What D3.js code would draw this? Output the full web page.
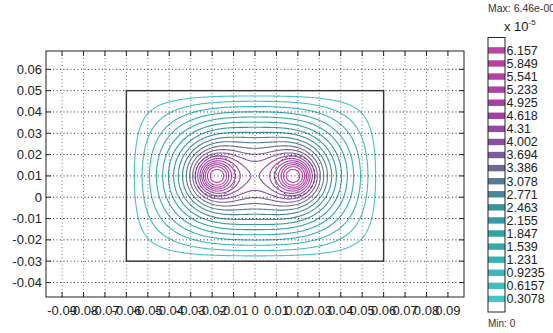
<!DOCTYPE html>
<html>
<head>
<meta charset="utf-8">
<script src="https://cdn.jsdelivr.net/npm/d3@7"></script>
<style>
  html, body { margin: 0; padding: 0; background: #fff; overflow: hidden; }
  svg { display: block; font-family: "Liberation Sans Narrow", "Liberation Sans", Arial, sans-serif; }
</style>
</head>
<body>
<svg id="chart" width="553" height="333"></svg>
<script>
// axis ticks and labels
const xTicks = [-0.09, -0.08, -0.07, -0.06, -0.05, -0.04, -0.03, -0.02, -0.01, 0, 0.01, 0.02, 0.03, 0.04, 0.05, 0.06, 0.07, 0.08, 0.09];
const xTickLabels = ["-0.09", "-0.08", "-0.07", "-0.06", "-0.05", "-0.04", "-0.03", "-0.02", "-0.01", "0", "0.01", "0.02", "0.03", "0.04", "0.05", "0.06", "0.07", "0.08", "0.09"];
const yTicks = [-0.04, -0.03, -0.02, -0.01, 0, 0.01, 0.02, 0.03, 0.04, 0.05, 0.06];
const yTickLabels = ["-0.04", "-0.03", "-0.02", "-0.01", "0", "0.01", "0.02", "0.03", "0.04", "0.05", "0.06"];

// outer boundary of the model (potential is zero on it)
const boundaryX = [-0.06, 0.06];
const boundaryY = [-0.03, 0.05];

// the two conductors (current radius) and their drawn outline
const conductorX = [-0.0185, 0.0185];
const conductorY = [0.01, 0.01];
const conductorR = [0.0058, 0.0058];
const outlineR = [0.0095, 0.0095];

// field range, x 1e-5
const fieldMax = 6.46;
const fieldMin = 0;
const levels = [0.3078, 0.6157, 0.9235, 1.231, 1.539, 1.847, 2.155, 2.463, 2.771, 3.078, 3.386, 3.694, 4.002, 4.31, 4.618, 4.925, 5.233, 5.541, 5.849, 6.157];
const levelLabels = ["0.3078", "0.6157", "0.9235", "1.231", "1.539", "1.847", "2.155", "2.463", "2.771", "3.078", "3.386", "3.694", "4.002", "4.31", "4.618", "4.925", "5.233", "5.541", "5.849", "6.157"];

const svg = d3.select("#chart");
const plot = { left: 46, right: 464, top: 51, bottom: 297 };

const x = d3.scaleLinear().domain([-0.0975, 0.0975]).range([plot.left, plot.right]);
const y = d3.scaleLinear().domain([-0.0468, 0.0686]).range([plot.bottom, plot.top]);

const color = d3.scaleLinear()
  .domain([0, 1.8, 3.0, 3.4, 4.0, 4.6, 6.2])
  .range(["#4ccad3", "#2ba7a6", "#4f8096", "#6c6a92", "#8a4ea9", "#a23fa6", "#bd43a0"]);

// solve the potential on a grid: Poisson with current in the conductors, zero on the boundary
const h = 0.0005;
const nx = Math.round((boundaryX[1] - boundaryX[0]) / h) + 1;
const ny = Math.round((boundaryY[1] - boundaryY[0]) / h) + 1;
const A = new Float64Array(nx * ny);
const J = new Float64Array(nx * ny);
for (let j = 0; j < ny; j++) {
  for (let i = 0; i < nx; i++) {
    const px = boundaryX[0] + i * h, py = boundaryY[1] - j * h;
    for (let c = 0; c < conductorX.length; c++) {
      const dx = px - conductorX[c], dy = py - conductorY[c];
      if (dx * dx + dy * dy <= conductorR[c] * conductorR[c]) J[j * nx + i] = 1;
    }
  }
}
const w = 1.965;
for (let it = 0; it < 1300; it++) {
  for (let j = 1; j < ny - 1; j++) {
    for (let i = 1; i < nx - 1; i++) {
      const k = j * nx + i;
      const g = (A[k - 1] + A[k + 1] + A[k - nx] + A[k + nx] + J[k]) * 0.25;
      A[k] += w * (g - A[k]);
    }
  }
}
const aMax = d3.max(A);
const values = Array.from(A, v => v / aMax * fieldMax);

// contours
const contours = d3.contours().size([nx, ny]).thresholds(levels)(values);
const toScreen = d3.geoTransform({
  point(px, py) {
    this.stream.point(x(boundaryX[0] + (px - 0.5) * h), y(boundaryY[1] - (py - 0.5) * h));
  }
});
const path = d3.geoPath(toScreen);

svg.append("g")
  .selectAll("path")
  .data(contours)
  .join("path")
  .attr("d", path)
  .attr("fill", "none")
  .attr("stroke", d => color(d.value))
  .attr("stroke-width", 1.1);

// conductor outlines
svg.append("g")
  .selectAll("circle")
  .data(conductorX)
  .join("circle")
  .attr("cx", d => x(d))
  .attr("cy", (d, i) => y(conductorY[i]))
  .attr("r", (d, i) => x(outlineR[i]) - x(0))
  .attr("fill", "none")
  .attr("stroke", "#4a1f4c")
  .attr("stroke-opacity", 0.75)
  .attr("stroke-dasharray", "3,2");

// dotted grid
svg.append("g")
  .selectAll("line")
  .data(xTicks)
  .join("line")
  .attr("x1", d => x(d)).attr("x2", d => x(d))
  .attr("y1", plot.top).attr("y2", plot.bottom)
  .attr("stroke", "#777").attr("stroke-dasharray", "1,2.5");
svg.append("g")
  .selectAll("line")
  .data(yTicks)
  .join("line")
  .attr("x1", plot.left).attr("x2", plot.right)
  .attr("y1", d => y(d)).attr("y2", d => y(d))
  .attr("stroke", "#333").attr("stroke-dasharray", "1,2.5");

// model boundary
svg.append("rect")
  .attr("x", x(boundaryX[0])).attr("y", y(boundaryY[1]))
  .attr("width", x(boundaryX[1]) - x(boundaryX[0]))
  .attr("height", y(boundaryY[0]) - y(boundaryY[1]))
  .attr("fill", "none").attr("stroke", "#333").attr("stroke-width", 1.4);

// axes box and inward ticks on all sides
const tickLen = 5;
const ticks = svg.append("g").attr("stroke", "#222");
xTicks.forEach(v => {
  ticks.append("line").attr("x1", x(v)).attr("x2", x(v)).attr("y1", plot.bottom).attr("y2", plot.bottom - tickLen);
  ticks.append("line").attr("x1", x(v)).attr("x2", x(v)).attr("y1", plot.top).attr("y2", plot.top + tickLen);
});
yTicks.forEach(v => {
  ticks.append("line").attr("x1", plot.left).attr("x2", plot.left + tickLen).attr("y1", y(v)).attr("y2", y(v));
  ticks.append("line").attr("x1", plot.right).attr("x2", plot.right - tickLen).attr("y1", y(v)).attr("y2", y(v));
});
svg.append("rect")
  .attr("x", plot.left).attr("y", plot.top)
  .attr("width", plot.right - plot.left).attr("height", plot.bottom - plot.top)
  .attr("fill", "none").attr("stroke", "#222");

svg.append("g")
  .selectAll("text")
  .data(xTicks)
  .join("text")
  .attr("x", d => x(d)).attr("y", 315)
  .attr("text-anchor", "middle")
  .attr("font-size", 13).attr("fill", "#222")
  .text((d, i) => xTickLabels[i]);
svg.append("g")
  .selectAll("text")
  .data(yTicks)
  .join("text")
  .attr("x", 42).attr("y", d => y(d) + 4.5)
  .attr("text-anchor", "end")
  .attr("font-size", 13).attr("fill", "#222")
  .text((d, i) => yTickLabels[i]);

// colour bar
const bar = { left: 488, right: 505 };
const cb = d3.scaleLinear().domain([fieldMin, fieldMax]).range([312, 37.5]);
svg.append("g")
  .selectAll("rect")
  .data(levels)
  .join("rect")
  .attr("x", bar.left).attr("width", bar.right - bar.left)
  .attr("y", d => cb(d) - 3.2).attr("height", 6.4)
  .attr("fill", d => color(d));
svg.append("rect")
  .attr("x", bar.left).attr("y", cb(fieldMax))
  .attr("width", bar.right - bar.left).attr("height", cb(fieldMin) - cb(fieldMax))
  .attr("fill", "none").attr("stroke", "#222");
svg.append("g")
  .selectAll("text")
  .data(levels)
  .join("text")
  .attr("x", bar.right + 1.5).attr("y", d => cb(d) + 4.3)
  .attr("font-size", 12.5).attr("fill", "#222")
  .text((d, i) => levelLabels[i]);

svg.append("text").attr("x", 488).attr("y", 12).attr("font-family", "Liberation Sans, Arial, sans-serif")
  .attr("font-size", 10.5).attr("fill", "#333").text("Max: 6.46e-005");
const exp = svg.append("text").attr("x", 504).attr("y", 31).attr("font-size", 13).attr("fill", "#222");
exp.append("tspan").text("x 10");
exp.append("tspan").attr("dy", -6).attr("font-size", 8).text("-5");
svg.append("text").attr("x", 488).attr("y", 327).attr("font-family", "Liberation Sans, Arial, sans-serif")
  .attr("font-size", 10).attr("fill", "#333").text("Min: 0");
</script>
</body>
</html>
